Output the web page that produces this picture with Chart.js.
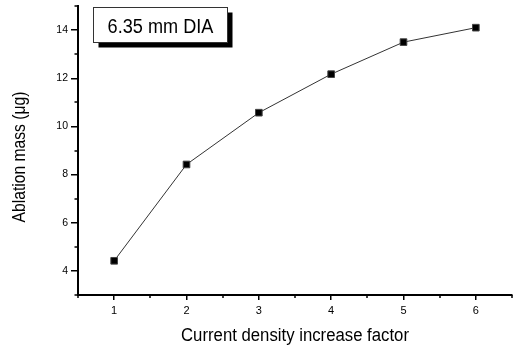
<!DOCTYPE html>
<html>
<head>
<meta charset="utf-8">
<script src="https://cdn.jsdelivr.net/npm/chart.js@4/dist/chart.umd.min.js"></script>
<style>
  body { margin: 0; background: #fff; }
</style>
</head>
<body>
<canvas id="chart" width="518" height="352"></canvas>
<script>
const factors = [1, 2, 3, 4, 5, 6];
const ablationMass = [4.42, 8.42, 10.57, 12.17, 13.5, 14.1];
const xTicks = [1, 2, 3, 4, 5, 6];
const yTicks = [4, 6, 8, 10, 12, 14];
const xMinorTicks = [0.5, 1.5, 2.5, 3.5, 4.5, 5.5, 6.5];
const yMinorTicks = [3, 5, 7, 9, 11, 13, 15];
const xTitle = 'Current density increase factor';
const yTitle = 'Ablation mass (\u03bcg)';
const boxLabel = '6.35 mm DIA';

const FONT = 'Arial, "Liberation Sans", sans-serif';

// draw text squeezed along its own direction (the original's font is a bit narrow)
function narrowText(ctx, text, x, y, size, squeeze, angle) {
  ctx.save();
  ctx.translate(x, y);
  ctx.rotate(angle || 0);
  ctx.scale(squeeze, 1);
  ctx.font = size + 'px ' + FONT;
  ctx.textAlign = 'center';
  ctx.textBaseline = 'alphabetic';
  ctx.fillStyle = '#000';
  ctx.fillText(text, 0, 0);
  ctx.restore();
}

// minor ticks, axis titles and the little shadowed label box
const extras = {
  id: 'extras',
  afterDraw(chart) {
    const ctx = chart.ctx;
    const xs = chart.scales.x;
    const ys = chart.scales.y;
    const area = chart.chartArea;
    ctx.save();
    ctx.strokeStyle = '#000';
    ctx.lineWidth = 1.5;
    ctx.beginPath();
    xMinorTicks.forEach(v => {
      const px = Math.round(xs.getPixelForValue(v));
      ctx.moveTo(px, area.bottom);
      ctx.lineTo(px, area.bottom + 3);
    });
    yMinorTicks.forEach(v => {
      const py = Math.round(ys.getPixelForValue(v));
      ctx.moveTo(area.left, py);
      ctx.lineTo(area.left - 3.5, py);
    });
    ctx.stroke();

    // label box
    const bx = area.left + 15.5, by = area.top + 1.5, bw = 134, bh = 35;
    ctx.fillStyle = '#000';
    ctx.fillRect(bx + 5, by + 5, bw, bh);
    ctx.fillStyle = '#fff';
    ctx.fillRect(bx, by, bw, bh);
    ctx.strokeStyle = '#333';
    ctx.lineWidth = 1;
    ctx.strokeRect(bx, by, bw, bh);
    narrowText(ctx, boxLabel, bx + bw / 2, by + 25, 19.5, 0.93);

    // axis titles
    narrowText(ctx, xTitle, (area.left + area.right) / 2, 340.5, 18, 0.93);
    narrowText(ctx, yTitle, 25, 157, 18, 0.87, -Math.PI / 2);
    ctx.restore();
  }
};

const ctx = document.getElementById('chart').getContext('2d');

const chart = new Chart(ctx, {
  type: 'line',
  data: {
    datasets: [{
      data: factors.map((f, i) => ({ x: f, y: ablationMass[i] })),
      borderColor: '#333',
      borderWidth: 1,
      pointStyle: 'rect',
      pointRadius: 4.7,
      pointBackgroundColor: '#000',
      pointBorderColor: '#444',
      pointBorderWidth: 1,
      tension: 0,
      clip: false
    }]
  },
  options: {
    responsive: false,
    animation: false,
    layout: { padding: { top: 6, right: 6, left: 0, bottom: 0 } },
    plugins: { legend: { display: false }, tooltip: { enabled: false } },
    scales: {
      x: {
        type: 'linear',
        min: 0.5,
        max: 6.5,
        afterBuildTicks: s => { s.ticks = xTicks.map(v => ({ value: v })); },
        afterFit: s => {
          s.height = 57;
          s.paddingLeft = 0;
          s.paddingRight = 0;
        },
        border: { color: '#000', width: 2 },
        grid: { drawOnChartArea: false, drawTicks: true, tickLength: 5, color: '#000', lineWidth: 1.5 },
        ticks: { color: '#000', font: { family: FONT, size: 11 }, padding: 4, maxRotation: 0 }
      },
      y: {
        type: 'linear',
        min: 3,
        max: 15,
        afterBuildTicks: s => { s.ticks = yTicks.map(v => ({ value: v })); },
        afterFit: s => {
          s.width = 78;
          s.paddingTop = 0;
          s.paddingBottom = 0;
        },
        border: { color: '#000', width: 2 },
        grid: { drawOnChartArea: false, drawTicks: true, tickLength: 7, color: '#000', lineWidth: 1.5 },
        ticks: { color: '#000', font: { family: FONT, size: 10.5 }, padding: 3 }
      }
    }
  },
  plugins: [extras]
});
</script>
</body>
</html>
